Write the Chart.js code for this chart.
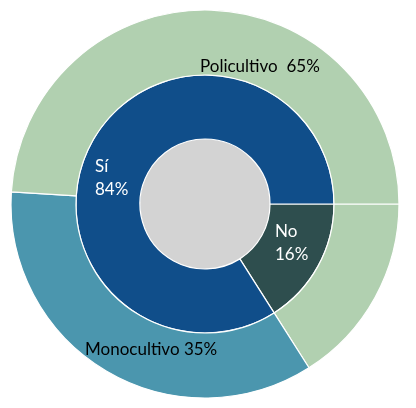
<!DOCTYPE html>
<html>
<head>
<meta charset="utf-8">
<script src="https://cdn.jsdelivr.net/npm/chart.js@4/dist/chart.umd.min.js"></script>
<style>
    html, body { margin: 0; padding: 0; background: #fff; }
    #wrap { width: 416px; height: 408px; }
</style>
</head>
<body>
<div id="wrap"><canvas id="donutChart" width="416" height="408"></canvas></div>
<script>
// outer ring: Policultivo is split at 3 o'clock (two slices, same colour)
const outerLabels = ['Policultivo', 'Monocultivo', 'Policultivo'];
const outerValues = [16, 35, 49];
// inner ring
const innerLabels = ['No', 'Sí'];
const innerValues = [16, 84];
// totals shown in the labels
const cultivoPct = { Policultivo: 65, Monocultivo: 35 };
const respuestaPct = { 'Sí': 84, 'No': 16 };

const GREEN = '#b1d0b0';
const TEAL = '#4b96ae';
const BLUE = '#104e8a';
const SLATE = '#2e4e4e';
const HOLE = '#d3d3d3';

// label placement, offset from the chart centre
const labelSpots = [
    { lines: ['Policultivo  ' + cultivoPct.Policultivo + '%'], dx: -5, dy: -137, color: '#000' },
    { lines: ['Monocultivo ' + cultivoPct.Monocultivo + '%'], dx: -120, dy: 146, color: '#000' },
    { lines: ['Sí', respuestaPct['Sí'] + '%'], dx: -110, dy: -37, color: '#fff' },
    { lines: ['No', respuestaPct['No'] + '%'], dx: 70, dy: 28, color: '#fff' }
];

const labelPlugin = {
    id: 'ringLabels',
    afterDraw(chart) {
        const arc = chart.getDatasetMeta(0).data[0];
        if (!arc) return;
        const ctx = chart.ctx;
        ctx.save();
        ctx.font = '17px Lato, "Open Sans", sans-serif';
        ctx.textAlign = 'left';
        ctx.textBaseline = 'middle';
        labelSpots.forEach(spot => {
            ctx.fillStyle = spot.color;
            spot.lines.forEach((line, i) => {
                ctx.fillText(line, arc.x + spot.dx, arc.y + spot.dy + i * 23);
            });
        });
        ctx.restore();
    }
};

document.addEventListener('DOMContentLoaded', () => {
    const ctx = document.getElementById('donutChart').getContext('2d');
    new Chart(ctx, {
        type: 'doughnut',
        data: {
            datasets: [{
                label: 'Cultivo',
                labels: outerLabels,
                data: outerValues,
                backgroundColor: [GREEN, TEAL, GREEN],
                borderColor: '#fff',
                borderWidth: 1.2,
                weight: 65
            }, {
                label: 'Respuesta',
                labels: innerLabels,
                data: innerValues,
                backgroundColor: [SLATE, BLUE],
                borderColor: '#fff',
                borderWidth: 1.2,
                weight: 64
            }, {
                label: 'centro',
                data: [100],
                backgroundColor: [HOLE],
                borderWidth: 0,
                weight: 65
            }]
        },
        options: {
            responsive: false,
            animation: false,
            rotation: 90,
            cutout: 0,
            radius: 194,
            layout: { padding: { left: 0, right: 6, top: 0, bottom: 0 } },
            plugins: {
                legend: { display: false },
                tooltip: { enabled: false }
            }
        },
        plugins: [labelPlugin]
    });
});
</script>
</body>
</html>
